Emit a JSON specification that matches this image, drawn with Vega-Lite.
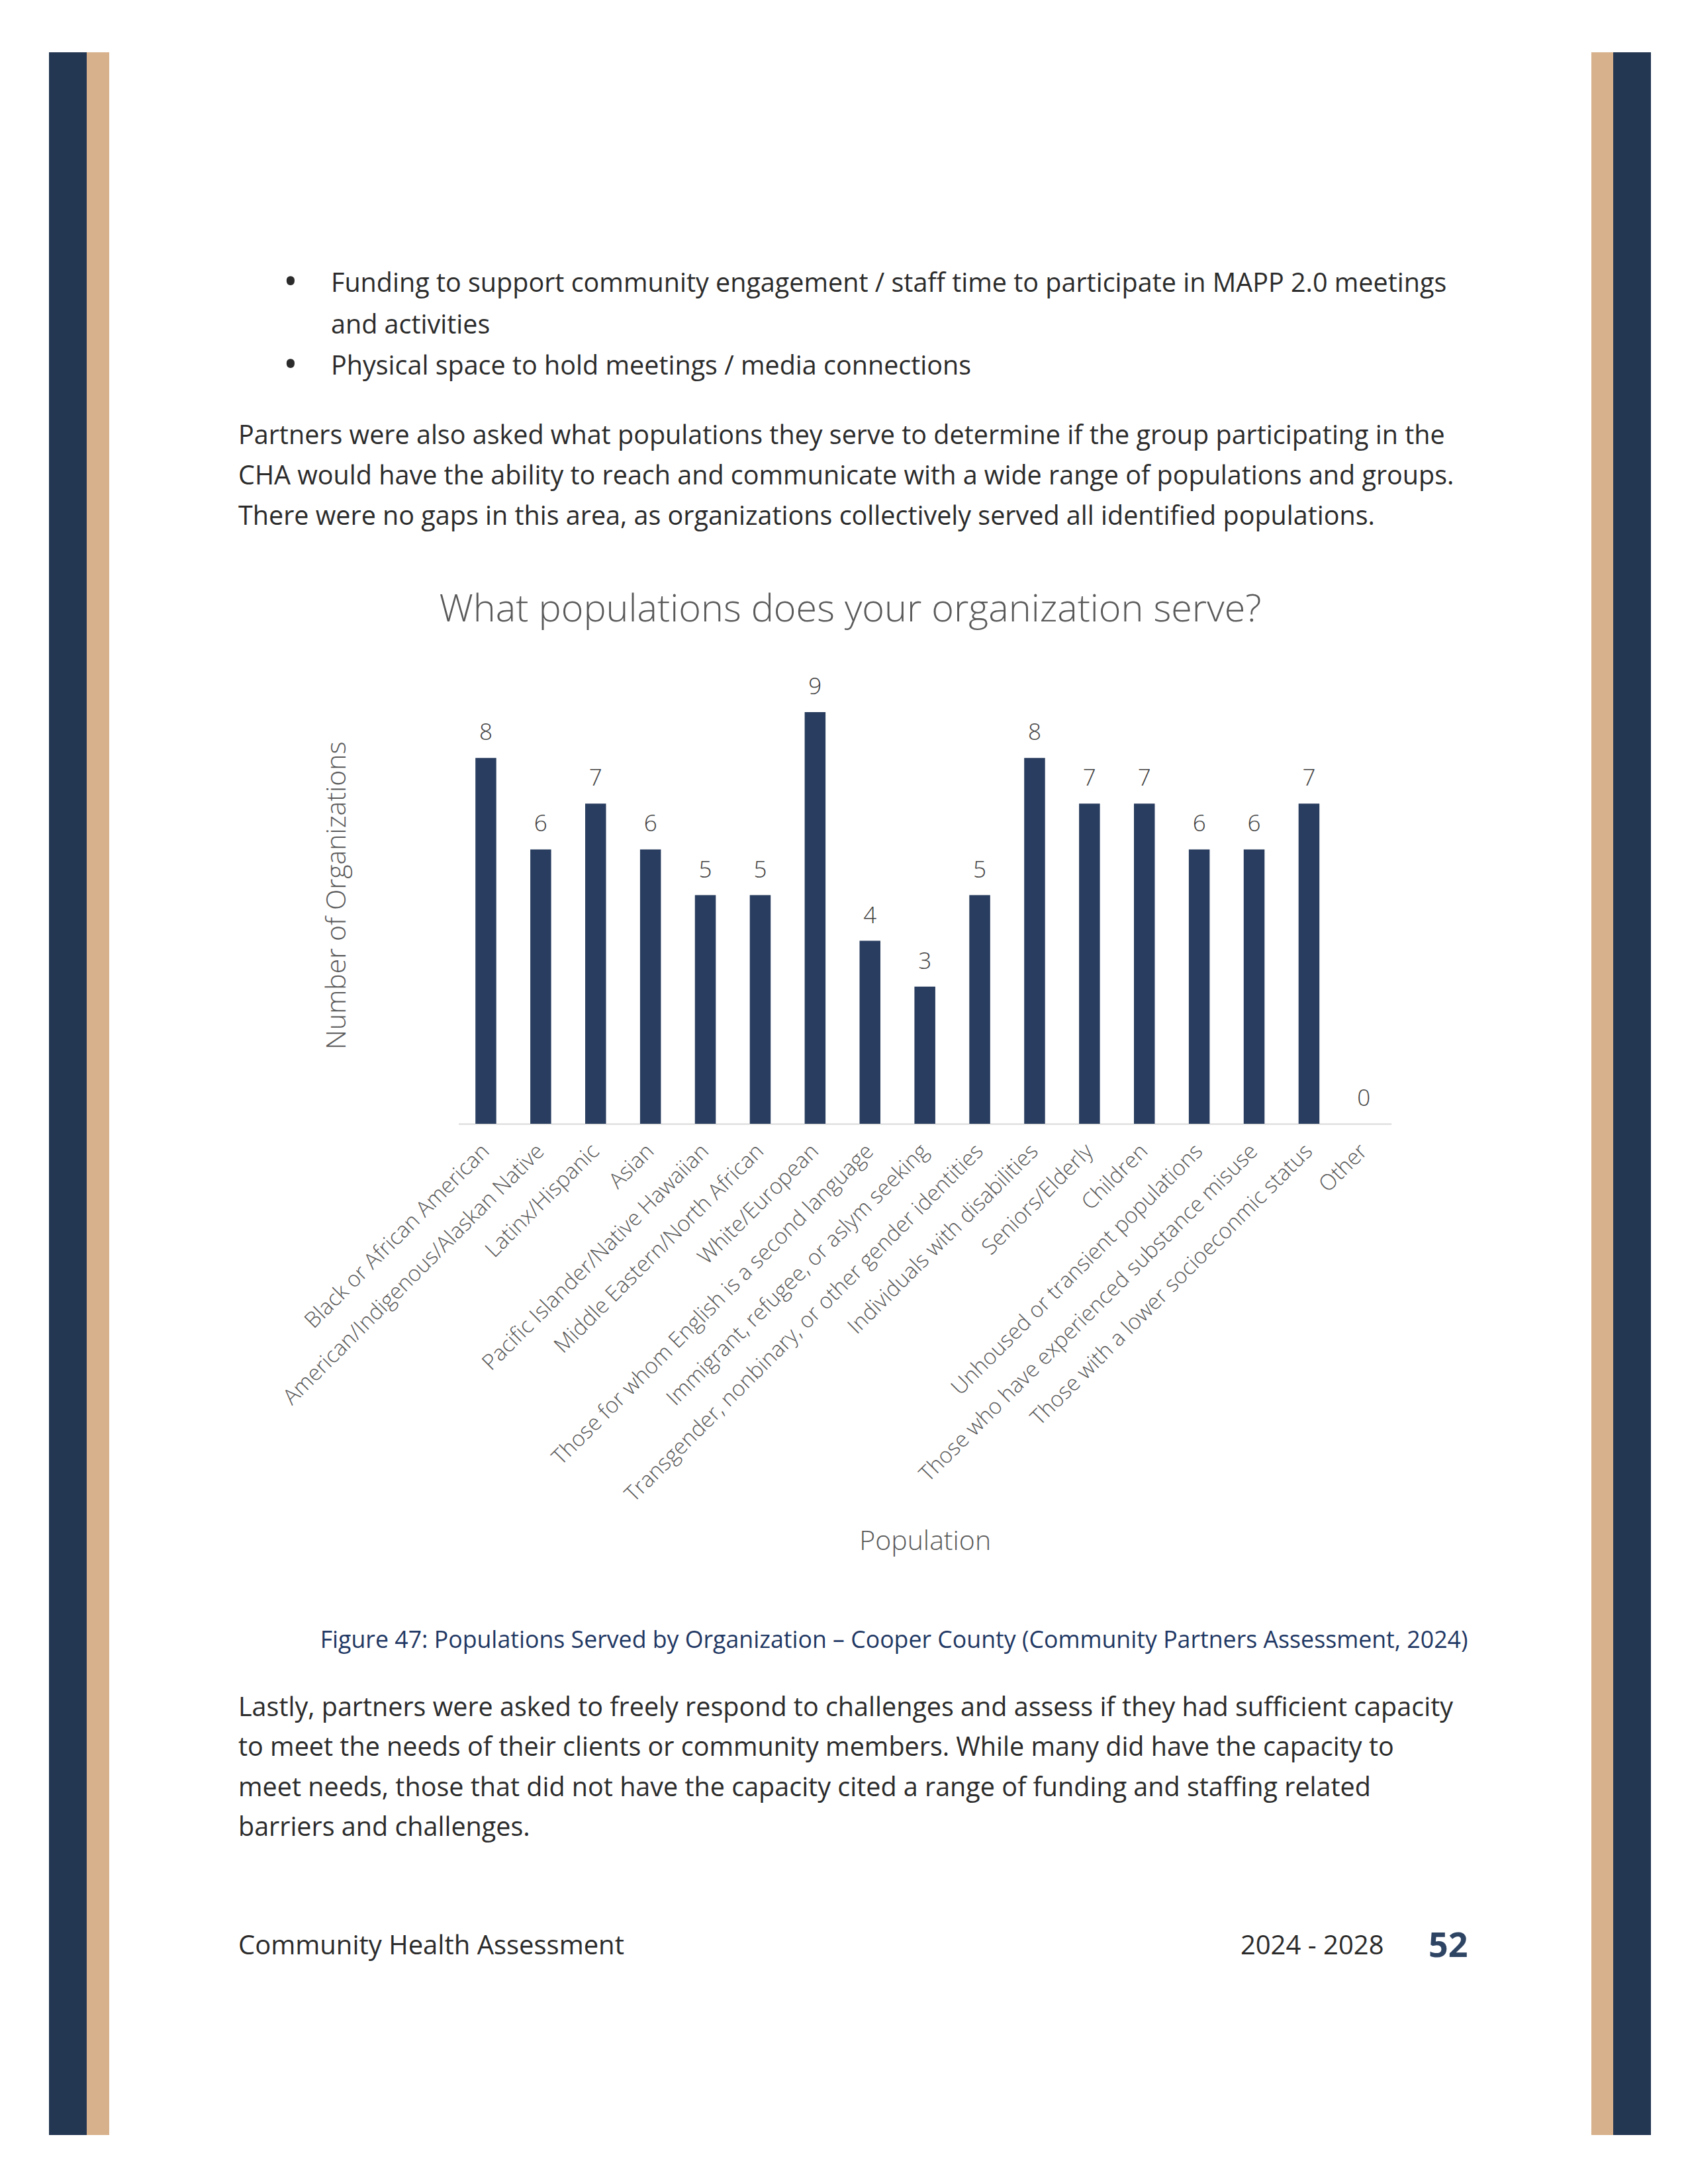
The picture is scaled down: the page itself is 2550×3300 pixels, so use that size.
{
  "$schema": "https://vega.github.io/schema/vega-lite/v6.json",
  "background": "white",
  "padding": {"left": 74, "top": 79, "right": 0, "bottom": 0},
  "config": {"view": {"stroke": null}, "font": "Open Sans"},
  "spacing": 186.5,
  "hconcat": [
    {
      "spacing": 0,
      "hconcat": [
        {"width": 57, "height": 3147, "data": {"values": [{"stripe": "navy"}]}, "mark": {"type": "rect", "color": "#233652"}, "encoding": {"x": {"field": "stripe", "type": "nominal", "axis": null, "scale": {"paddingInner": 0, "paddingOuter": 0}}}},
        {"width": 34, "height": 3147, "data": {"values": [{"stripe": "tan"}]}, "mark": {"type": "rect", "color": "#d7b18b"}, "encoding": {"x": {"field": "stripe", "type": "nominal", "axis": null, "scale": {"paddingInner": 0, "paddingOuter": 0}}}}
      ]
    },
    {
      "spacing": 0,
      "bounds": "flush",
      "vconcat": [
        {
          "width": 1866, "height": 520,
          "data": {"values": [
            {"line": 0, "bullet": "•", "text": "Funding to support community engagement / staff time to participate in MAPP 2.0 meetings"},
            {"line": 1, "bullet": "", "text": "and activities"},
            {"line": 2, "bullet": "•", "text": "Physical space to hold meetings / media connections"}
          ]},
          "encoding": {"y": {"field": "line", "type": "ordinal", "axis": null, "scale": {"type": "point", "range": [350, 475], "padding": 0}}},
          "layer": [
            {"mark": {"type": "text", "align": "center", "baseline": "middle", "fontSize": 58, "color": "#2b2b2b"}, "encoding": {"x": {"value": 87.5}, "text": {"field": "bullet"}}},
            {"mark": {"type": "text", "align": "left", "baseline": "middle", "fontSize": 39.5, "color": "#2b2b2b"}, "encoding": {"x": {"value": 148.5}, "text": {"field": "text"}}}
          ]
        },
        {
          "width": 1866, "height": 408,
          "data": {"values": [
            {"line": 0, "text": "Partners were also asked what populations they serve to determine if the group participating in the"},
            {"line": 1, "text": "CHA would have the ability to reach and communicate with a wide range of populations and groups."},
            {"line": 2, "text": "There were no gaps in this area, as organizations collectively served all identified populations."}
          ]},
          "mark": {"type": "text", "align": "left", "baseline": "middle", "fontSize": 39.5, "color": "#2b2b2b"},
          "encoding": {
            "y": {"field": "line", "type": "ordinal", "axis": null, "scale": {"type": "point", "range": [60, 182], "padding": 0}},
            "x": {"value": 8.5},
            "text": {"field": "text"}
          }
        },
        {
          "width": 1866, "height": 691,
          "title": {"text": "What populations does your organization serve?", "frame": "group", "anchor": "middle", "baseline": "alphabetic", "offset": 11, "fontSize": 57.5, "fontWeight": 300, "color": "#595959", "font": "Open Sans"},
          "data": {"values": [
            {"population": "Black or African American", "count": 8},
            {"population": "American/Indigenous/Alaskan Native", "count": 6},
            {"population": "Latinx/Hispanic", "count": 7},
            {"population": "Asian", "count": 6},
            {"population": "Pacific Islander/Native Hawaiian", "count": 5},
            {"population": "Middle Eastern/North African", "count": 5},
            {"population": "White/European", "count": 9},
            {"population": "Those for whom English is a second language", "count": 4},
            {"population": "Immigrant, refugee, or aslym seeking", "count": 3},
            {"population": "Transgender, nonbinary, or other gender identities", "count": 5},
            {"population": "Individuals with disabilities", "count": 8},
            {"population": "Seniors/Elderly", "count": 7},
            {"population": "Children", "count": 7},
            {"population": "Unhoused or transient populations", "count": 6},
            {"population": "Those who have experienced substance misuse", "count": 6},
            {"population": "Those with a lower socioeconmic status", "count": 7},
            {"population": "Other", "count": 0}
          ]},
          "encoding": {
            "x": {
              "field": "population", "type": "nominal", "sort": null,
              "scale": {"range": [341, 1750.3], "paddingInner": 0.62, "paddingOuter": 0.31},
              "axis": {"title": "Population", "titleY": 631, "titleBaseline": "middle", "titleFontSize": 41, "titleFontWeight": 300, "titleColor": "#595959",
                       "labelAngle": -45, "labelAlign": "right", "labelBaseline": "middle", "labelFontSize": 33, "labelFontWeight": 300, "labelColor": "#595959",
                       "labelLimit": 2000, "labelPadding": 36, "labelOverlap": false, "ticks": false, "domainColor": "#d9d9d9", "domainWidth": 2, "grid": false}
            },
            "y": {
              "field": "count", "type": "quantitative", "scale": {"domain": [0, 10]},
              "axis": {"title": "Number of Organizations", "labels": false, "ticks": false, "domain": false, "grid": false,
                       "titleX": 157.5, "titleY": 345.5, "titleAngle": 270, "titleAlign": "center", "titleBaseline": "middle",
                       "titleFontSize": 41, "titleFontWeight": 300, "titleColor": "#595959"}
            }
          },
          "layer": [
            {"mark": {"type": "bar", "color": "#283d5f"}},
            {"mark": {"type": "text", "dy": -38, "baseline": "middle", "fontSize": 35, "fontWeight": 300, "color": "#404040"}, "encoding": {"text": {"field": "count", "type": "quantitative"}}}
          ]
        },
        {
          "width": 1866, "height": 804,
          "data": {"values": [{"line": 0, "text": "Figure 47: Populations Served by Organization – Cooper County (Community Partners Assessment, 2024)"}]},
          "mark": {"type": "text", "align": "right", "baseline": "middle", "fontSize": 35.7, "color": "#1f3864"},
          "encoding": {
            "y": {"field": "line", "type": "ordinal", "axis": null, "scale": {"type": "point", "range": [781, 781], "padding": 0}},
            "x": {"value": 1866},
            "text": {"field": "text"}
          }
        },
        {
          "width": 1866, "height": 300,
          "data": {"values": [
            {"line": 0, "text": "Lastly, partners were asked to freely respond to challenges and assess if they had sufficient capacity"},
            {"line": 1, "text": "to meet the needs of their clients or community members. While many did have the capacity to"},
            {"line": 2, "text": "meet needs, those that did not have the capacity cited a range of funding and staffing related"},
            {"line": 3, "text": "barriers and challenges."}
          ]},
          "mark": {"type": "text", "align": "left", "baseline": "middle", "fontSize": 39.5, "color": "#2b2b2b"},
          "encoding": {
            "y": {"field": "line", "type": "ordinal", "axis": null, "scale": {"type": "point", "range": [79, 260], "padding": 0}},
            "x": {"value": 8.5},
            "text": {"field": "text"}
          }
        },
        {
          "width": 1866, "height": 200,
          "data": {"values": [
            {"line": 0, "slot": "left", "text": "Community Health Assessment"},
            {"line": 0, "slot": "years", "text": "2024 - 2028"},
            {"line": 0, "slot": "page", "text": "52"}
          ]},
          "encoding": {
            "y": {"field": "line", "type": "ordinal", "axis": null, "scale": {"type": "point", "range": [139, 139], "padding": 0}},
            "text": {"field": "text"}
          },
          "layer": [
            {"transform": [{"filter": "datum.slot === 'left'"}], "mark": {"type": "text", "align": "left", "baseline": "middle", "fontSize": 40, "color": "#2b2b2b"}, "encoding": {"x": {"value": 8.5}}},
            {"transform": [{"filter": "datum.slot === 'years'"}], "mark": {"type": "text", "align": "right", "baseline": "middle", "fontSize": 40, "color": "#2b2b2b"}, "encoding": {"x": {"value": 1739}}},
            {"transform": [{"filter": "datum.slot === 'page'"}], "mark": {"type": "text", "align": "right", "baseline": "middle", "fontSize": 52, "fontWeight": "bold", "color": "#2e4463"}, "encoding": {"x": {"value": 1866}}}
          ]
        }
      ]
    },
    {
      "spacing": 0,
      "hconcat": [
        {"width": 33, "height": 3147, "data": {"values": [{"stripe": "tan"}]}, "mark": {"type": "rect", "color": "#d7b18b"}, "encoding": {"x": {"field": "stripe", "type": "nominal", "axis": null, "scale": {"paddingInner": 0, "paddingOuter": 0}}}},
        {"width": 57, "height": 3147, "data": {"values": [{"stripe": "navy"}]}, "mark": {"type": "rect", "color": "#233652"}, "encoding": {"x": {"field": "stripe", "type": "nominal", "axis": null, "scale": {"paddingInner": 0, "paddingOuter": 0}}}}
      ]
    }
  ]
}
